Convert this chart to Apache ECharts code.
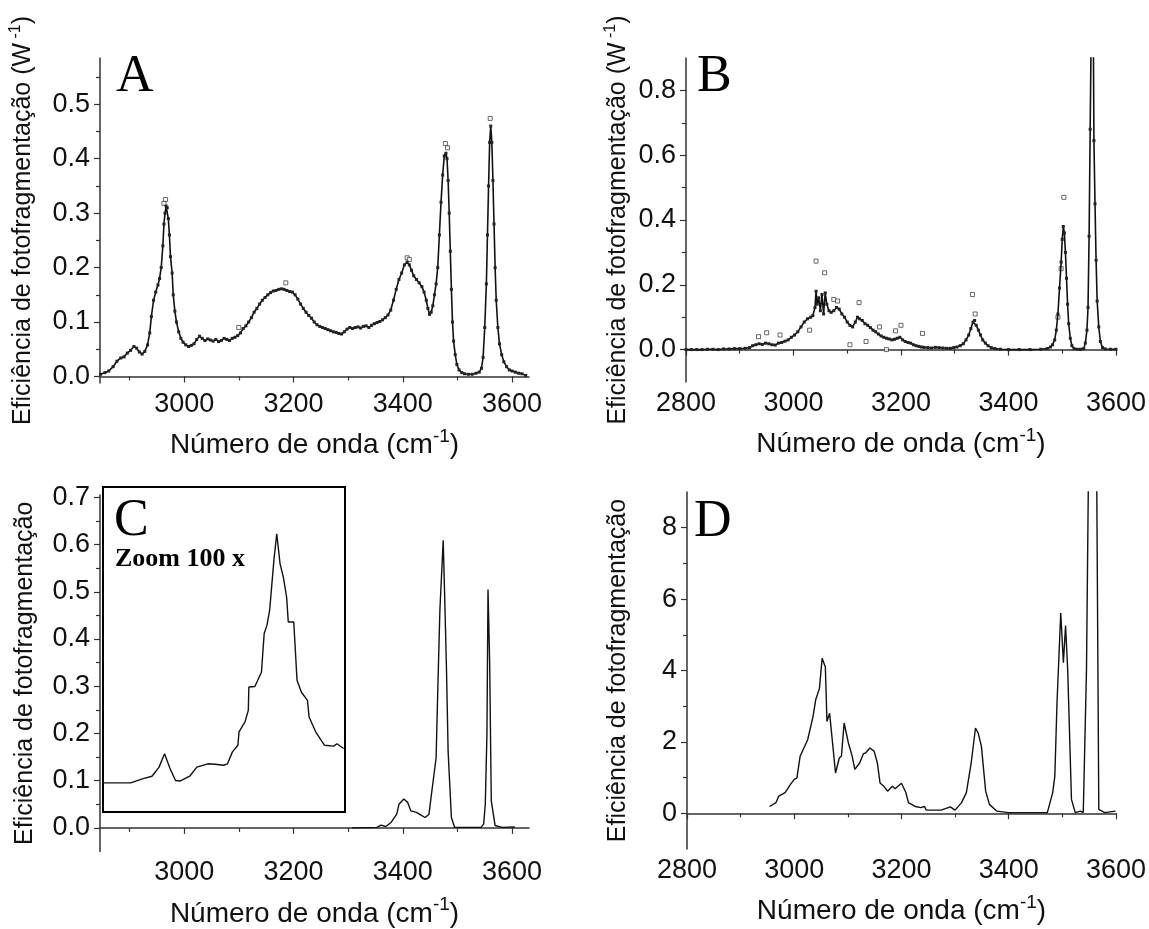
<!DOCTYPE html>
<html><head><meta charset="utf-8">
<script src="https://cdn.jsdelivr.net/npm/echarts@6/dist/echarts.min.js"></script>
<style>html,body{margin:0;padding:0;background:#fff}#c{width:1149px;height:929px}</style>
</head><body><div id="c"></div>
<script>
// Panel A: wavenumber / efficiency (line with points)
const aX = [2847,2855,2862,2870,2877,2884,2890,2896,2902,2908,2913,2918,2923,2928,2933,2937,2940,2944,2948,2952,2955,2958,2961,2963,2965,2967,2969,2971,2973,2975,2978,2980,2983,2986,2990,2994,2998,3003,3008,3013,3018,3023,3028,3033,3038,3043,3048,3053,3058,3063,3068,3073,3078,3083,3088,3093,3098,3103,3108,3113,3118,3123,3128,3133,3138,3143,3148,3153,3158,3163,3168,3173,3178,3183,3188,3193,3198,3203,3208,3213,3218,3223,3228,3233,3238,3243,3248,3253,3258,3263,3268,3273,3278,3283,3288,3293,3298,3303,3308,3313,3318,3323,3328,3333,3338,3343,3348,3353,3358,3363,3368,3373,3378,3383,3388,3393,3398,3403,3408,3412,3416,3420,3425,3430,3435,3439,3443,3446,3449,3452,3455,3458,3461,3464,3467,3470,3473,3476,3479,3481,3483,3485,3487,3489,3491,3493,3496,3499,3503,3508,3513,3520,3527,3534,3540,3544,3547,3550,3553,3555,3557,3559,3561,3563,3565,3567,3569,3571,3574,3577,3581,3585,3590,3595,3600,3606,3612,3618,3625];
const aY = [0.004,0.007,0.010,0.018,0.028,0.034,0.036,0.043,0.048,0.055,0.052,0.045,0.041,0.046,0.058,0.080,0.110,0.140,0.155,0.168,0.180,0.200,0.240,0.280,0.300,0.313,0.310,0.290,0.260,0.220,0.190,0.150,0.120,0.100,0.082,0.070,0.063,0.058,0.055,0.057,0.060,0.068,0.074,0.070,0.066,0.069,0.067,0.065,0.068,0.064,0.066,0.070,0.068,0.066,0.070,0.072,0.075,0.080,0.088,0.093,0.100,0.108,0.118,0.125,0.133,0.140,0.145,0.150,0.154,0.157,0.158,0.160,0.161,0.160,0.158,0.156,0.155,0.150,0.142,0.133,0.125,0.118,0.112,0.107,0.100,0.095,0.092,0.090,0.088,0.086,0.084,0.082,0.081,0.079,0.078,0.082,0.087,0.090,0.088,0.090,0.091,0.089,0.092,0.093,0.090,0.094,0.097,0.099,0.101,0.104,0.108,0.113,0.122,0.140,0.160,0.178,0.190,0.205,0.210,0.205,0.195,0.185,0.178,0.172,0.165,0.155,0.140,0.125,0.114,0.118,0.130,0.150,0.170,0.200,0.260,0.320,0.370,0.405,0.410,0.400,0.360,0.300,0.230,0.160,0.100,0.065,0.040,0.022,0.012,0.007,0.005,0.004,0.004,0.006,0.008,0.015,0.035,0.090,0.170,0.260,0.350,0.430,0.460,0.430,0.360,0.280,0.200,0.140,0.090,0.060,0.040,0.027,0.018,0.012,0.010,0.008,0.006,0.005,0.002];
const aOutX = [2966,2963,3100,3186,3408,3412,3478,3482,3560];
const aOutY = [0.325,0.318,0.090,0.172,0.218,0.215,0.428,0.420,0.474];

// Panel B
const bX = [2800,2810,2820,2830,2840,2850,2860,2870,2880,2890,2900,2910,2918,2924,2930,2936,2942,2948,2954,2960,2966,2972,2978,2984,2990,2996,3002,3008,3014,3020,3026,3032,3036,3040,3042,3044,3047,3050,3053,3056,3059,3062,3066,3070,3075,3080,3085,3090,3095,3100,3105,3110,3115,3119,3123,3128,3133,3138,3143,3148,3153,3158,3163,3168,3173,3178,3183,3188,3193,3198,3203,3208,3213,3218,3223,3228,3233,3238,3243,3250,3257,3264,3271,3278,3285,3292,3298,3304,3310,3316,3321,3326,3330,3334,3337,3340,3344,3348,3352,3357,3362,3368,3375,3385,3400,3420,3440,3460,3472,3478,3482,3486,3489,3492,3495,3498,3500,3502,3504,3506,3508,3510,3512,3515,3518,3522,3528,3534,3540,3543,3546,3548,3550,3552,3554,3556,3558,3559,3561,3563,3565,3568,3571,3575,3580,3590,3600];
const bY = [0,0,0,0,0.001,0.001,0,0.002,0.002,0.003,0.003,0.004,0.006,0.012,0.015,0.018,0.016,0.020,0.018,0.015,0.014,0.020,0.022,0.026,0.030,0.038,0.045,0.055,0.070,0.085,0.095,0.100,0.105,0.130,0.180,0.140,0.160,0.120,0.170,0.110,0.175,0.140,0.120,0.115,0.120,0.130,0.125,0.110,0.100,0.085,0.075,0.070,0.085,0.100,0.095,0.090,0.080,0.075,0.068,0.060,0.055,0.048,0.042,0.038,0.035,0.033,0.030,0.032,0.035,0.038,0.030,0.025,0.022,0.020,0.015,0.012,0.010,0.008,0.007,0.006,0.005,0.007,0.006,0.005,0.004,0.004,0.006,0.008,0.012,0.018,0.030,0.045,0.065,0.085,0.090,0.075,0.060,0.045,0.030,0.020,0.012,0.006,0.003,0.001,0,0,0,0.001,0.003,0.008,0.015,0.030,0.060,0.110,0.190,0.270,0.340,0.380,0.360,0.300,0.220,0.140,0.080,0.035,0.012,0.003,0.001,0.001,0.003,0.020,0.060,0.130,0.350,0.680,1.000,1.250,0.950,0.645,0.450,0.276,0.150,0.070,0.025,0.006,0.002,0.001,0.001];
const bOutX = [2935,2950,2975,3030,3042,3058,3075,3082,3105,3122,3135,3160,3173,3190,3200,3240,3333,3338,3492,3498,3503];
const bOutY = [0.040,0.052,0.045,0.060,0.273,0.237,0.155,0.150,0.015,0.145,0.025,0.070,0.000,0.058,0.075,0.050,0.170,0.110,0.100,0.250,0.470];

// Panel C (main spectrum)
const cX = [3307,3353,3360,3369,3379,3389,3393,3402,3409,3415,3425,3435,3441,3448,3454,3461,3464,3468,3472,3474,3477,3480,3483,3489,3495,3543,3548,3551,3554,3556,3559,3562,3569,3582,3605];
const cY = [0.000,0.001,0.006,0.003,0.012,0.029,0.050,0.061,0.054,0.036,0.033,0.026,0.022,0.029,0.085,0.148,0.288,0.463,0.560,0.609,0.477,0.337,0.162,0.022,0.001,0.001,0.008,0.050,0.197,0.505,0.351,0.057,0.005,0.001,0.002];
// Panel C inset (Zoom 100 x)
const ciX = [2854,2903,2926,2942,2955,2965,2975,2985,2994,3011,3024,3044,3057,3073,3080,3089,3099,3101,3112,3118,3119,3130,3142,3147,3152,3157,3165,3170,3176,3182,3188,3191,3201,3207,3215,3226,3229,3241,3257,3274,3280,3292];
const ciY = [0.101,0.101,0.110,0.115,0.134,0.162,0.131,0.106,0.105,0.115,0.134,0.141,0.140,0.138,0.141,0.166,0.180,0.208,0.229,0.253,0.302,0.303,0.333,0.414,0.431,0.463,0.571,0.623,0.560,0.532,0.490,0.438,0.438,0.316,0.291,0.274,0.239,0.208,0.180,0.178,0.183,0.173];

// Panel D
const dX = [2954,2966,2971,2983,2993,3000,3005,3011,3025,3035,3040,3047,3052,3058,3061,3066,3068,3077,3084,3088,3093,3101,3108,3113,3122,3129,3133,3141,3149,3155,3160,3167,3174,3183,3188,3200,3208,3213,3226,3236,3243,3246,3274,3291,3300,3312,3321,3330,3338,3343,3349,3357,3364,3378,3399,3472,3482,3486,3490,3497,3502,3506,3510,3517,3524,3534,3539,3545,3551,3557,3563,3568,3579,3599];
const dY = [0.19,0.30,0.48,0.58,0.81,0.95,0.99,1.60,2.06,2.71,3.18,3.50,4.34,4.10,2.57,2.80,2.76,1.13,1.55,1.60,2.53,1.97,1.60,1.23,1.41,1.67,1.69,1.83,1.74,1.41,0.85,0.76,0.62,0.76,0.69,0.84,0.59,0.30,0.19,0.16,0.19,0.09,0.09,0.18,0.09,0.30,0.58,1.41,2.39,2.25,1.88,0.62,0.25,0.06,0.02,0.02,0.58,1.04,3.08,5.61,4.22,5.26,4.01,0.39,0.02,0.06,0.02,4.00,13.0,14.5,12.0,0.11,0.02,0.06];

// tick values
const abcTicks = [3000,3200,3400,3600];
const abcMinor = [2900,3100,3300,3500];
const bdTicks = [2800,3000,3200,3400,3600];
const bdMinor = [2900,3100,3300,3500];
const aYTicks = [0,0.1,0.2,0.3,0.4,0.5];
const aYMinor = [0.05,0.15,0.25,0.35,0.45,0.55];
const bYTicks = [0,0.2,0.4,0.6,0.8];
const bYMinor = [0.1,0.3,0.5,0.7];
const cYTicks = [0,0.1,0.2,0.3,0.4,0.5,0.6,0.7];
const cYMinor = [0.05,0.15,0.25,0.35,0.45,0.55,0.65];
const dYTicks = [0,2,4,6,8];
const dYMinor = [1,3,5,7];

const zip = (xs, ys) => xs.map((x, i) => [x, ys[i]]);
const SANS = 'Liberation Sans';
const SERIF = 'Liberation Serif';
const AX = '#333';

function mainX(grid, min, max, ticks) {
  return {
    type: 'value', gridIndex: grid, min, max, position: 'bottom',
    name: 'Número de onda (cm{s|-1})', nameLocation: 'middle', nameGap: 44,
    nameTextStyle: { fontFamily: SANS, fontSize: 28, color: '#111',
      rich: { s: { fontFamily: SANS, fontSize: 19, color: '#111', padding: [0, 0, 18, 0] } } },
    axisLine: { show: true, lineStyle: { color: AX, width: 1.5 } },
    axisTick: { show: true, inside: false, length: 6, customValues: ticks, lineStyle: { color: AX, width: 1.2 } },
    axisLabel: { show: true, customValues: ticks, margin: 8, fontFamily: SANS, fontSize: 27, color: '#111',
      formatter: v => String(Math.round(v)) },
    splitLine: { show: false }
  };
}
function minorX(grid, min, max, ticks) {
  return {
    type: 'value', gridIndex: grid, min, max, position: 'bottom',
    axisLine: { show: false },
    axisTick: { show: true, inside: false, length: 4, customValues: ticks, lineStyle: { color: AX, width: 1.2 } },
    axisLabel: { show: false }, splitLine: { show: false }
  };
}
function mainY(grid, min, max, ticks, withUnit, dec, gap) {
  return {
    type: 'value', gridIndex: grid, min, max, position: 'left',
    name: withUnit ? 'Eficiência de fotofragmentação (W{s| -1})' : 'Eficiência de fotofragmentação',
    nameLocation: 'middle', nameGap: gap, nameRotate: 90,
    nameTextStyle: { fontFamily: SANS, fontSize: 25, color: '#111',
      rich: { s: { fontFamily: SANS, fontSize: 16, color: '#111', padding: [0, 0, 14, 0] } } },
    axisLine: { show: true, lineStyle: { color: AX, width: 1.5 } },
    axisTick: { show: true, inside: false, length: 6, customValues: ticks, lineStyle: { color: AX, width: 1.2 } },
    axisLabel: { show: true, customValues: ticks, margin: 10, fontFamily: SANS, fontSize: 27, color: '#111',
      formatter: v => dec ? v.toFixed(dec) : String(Math.round(v)) },
    splitLine: { show: false }
  };
}
function minorY(grid, min, max, ticks) {
  return {
    type: 'value', gridIndex: grid, min, max, position: 'left',
    axisLine: { show: false },
    axisTick: { show: true, inside: false, length: 4, customValues: ticks, lineStyle: { color: AX, width: 1.2 } },
    axisLabel: { show: false }, splitLine: { show: false }
  };
}

const option = {
  animation: false,
  backgroundColor: '#fff',
  title: [
    { text: 'A', left: 111, top: 46, textStyle: { fontFamily: SERIF, fontSize: 52, fontWeight: 'normal', color: '#000' } },
    { text: 'B', left: 692, top: 46, textStyle: { fontFamily: SERIF, fontSize: 52, fontWeight: 'normal', color: '#000' } },
    { text: 'C', left: 109, top: 490, textStyle: { fontFamily: SERIF, fontSize: 52, fontWeight: 'normal', color: '#000' } },
    { text: 'Zoom 100 x', left: 110, top: 541, textStyle: { fontFamily: SERIF, fontSize: 26, fontWeight: 'bold', color: '#000' } },
    { text: 'D', left: 689, top: 491, textStyle: { fontFamily: SERIF, fontSize: 52, fontWeight: 'normal', color: '#000' } }
  ],
  grid: [
    { left: 100, top: 58, width: 429, height: 325 },
    { left: 686, top: 58, width: 430, height: 324 },
    { left: 100, top: 495, width: 429, height: 360 },
    { left: 687, top: 492, width: 429, height: 357 },
    { left: 103, top: 487, width: 242, height: 325, show: true, borderColor: '#000', borderWidth: 2, backgroundColor: 'transparent' }
  ],
  xAxis: [
    mainX(0, 2846, 3631, abcTicks),
    mainX(1, 2800, 3600, bdTicks),
    mainX(2, 2846, 3631, abcTicks),
    mainX(3, 2800, 3600, bdTicks),
    minorX(0, 2846, 3631, abcMinor),
    minorX(1, 2800, 3600, bdMinor),
    minorX(2, 2846, 3631, abcMinor),
    minorX(3, 2800, 3600, bdMinor),
    { type: 'value', gridIndex: 4, min: 2852.6, max: 3294.6, show: false }
  ],
  yAxis: [
    mainY(0, -0.012, 0.585, aYTicks, true, 1, 62),
    mainY(1, -0.1, 0.9, bYTicks, true, 1, 53),
    mainY(2, -0.05, 0.705, cYTicks, false, 1, 62),
    mainY(3, -1, 9, dYTicks, false, 0, 56),
    minorY(0, -0.012, 0.585, aYMinor),
    minorY(1, -0.1, 0.9, bYMinor),
    minorY(2, -0.05, 0.705, cYMinor),
    minorY(3, -1, 9, dYMinor),
    { type: 'value', gridIndex: 4, min: 0.04, max: 0.721, show: false }
  ],
  series: [
    { type: 'line', xAxisIndex: 0, yAxisIndex: 0, data: zip(aX, aY), clip: true,
      symbol: 'rect', symbolSize: 3, showSymbol: true, showAllSymbol: true,
      lineStyle: { color: '#111', width: 1.6 }, itemStyle: { color: '#222' } },
    { type: 'scatter', xAxisIndex: 0, yAxisIndex: 0, data: zip(aOutX, aOutY),
      symbol: 'rect', symbolSize: 4, itemStyle: { color: '#fff', borderColor: '#444', borderWidth: 1 } },
    { type: 'line', xAxisIndex: 1, yAxisIndex: 1, data: zip(bX, bY), clip: true,
      symbol: 'rect', symbolSize: 3, showSymbol: true, showAllSymbol: true,
      lineStyle: { color: '#111', width: 1.6 }, itemStyle: { color: '#222' } },
    { type: 'scatter', xAxisIndex: 1, yAxisIndex: 1, data: zip(bOutX, bOutY),
      symbol: 'rect', symbolSize: 4, itemStyle: { color: '#fff', borderColor: '#444', borderWidth: 1 } },
    { type: 'line', xAxisIndex: 2, yAxisIndex: 2, data: zip(cX, cY), clip: true,
      showSymbol: false, lineStyle: { color: '#111', width: 1.4 } },
    { type: 'line', xAxisIndex: 8, yAxisIndex: 8, data: zip(ciX, ciY), clip: true,
      showSymbol: false, lineStyle: { color: '#111', width: 1.4 } },
    { type: 'line', xAxisIndex: 3, yAxisIndex: 3, data: zip(dX, dY), clip: true,
      showSymbol: false, lineStyle: { color: '#111', width: 1.4 } }
  ]
};
const chart = echarts.init(document.getElementById('c'), null, { renderer: 'canvas' });
chart.setOption(option);
</script>
</body></html>
